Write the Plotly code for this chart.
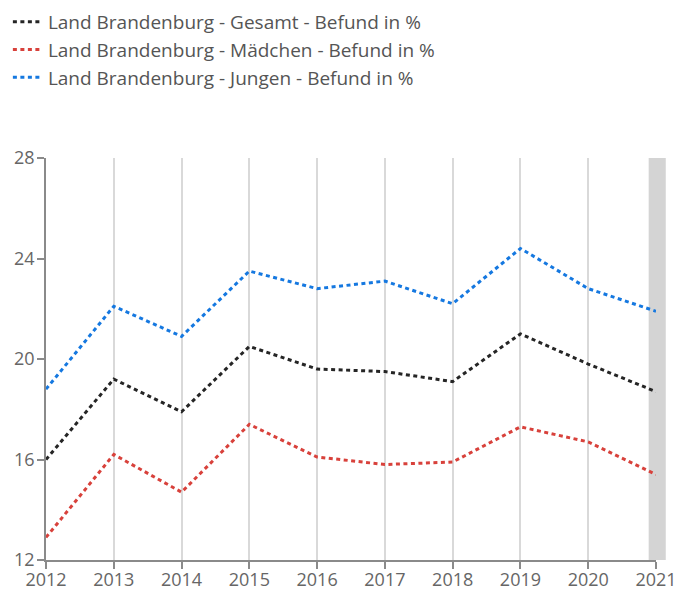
import plotly.graph_objects as go

years = [2012, 2013, 2014, 2015, 2016, 2017, 2018, 2019, 2020, 2021]
gesamt = [16.0, 19.2, 17.9, 20.5, 19.6, 19.5, 19.1, 21.0, 19.8, 18.7]
maedchen = [12.9, 16.2, 14.7, 17.4, 16.1, 15.8, 15.9, 17.3, 16.7, 15.4]
jungen = [18.8, 22.1, 20.9, 23.5, 22.8, 23.1, 22.2, 24.4, 22.8, 21.9]
y_ticks = [12, 16, 20, 24, 28]

names = [
    "Land Brandenburg - Gesamt - Befund in %",
    "Land Brandenburg - Mädchen - Befund in %",
    "Land Brandenburg - Jungen - Befund in %",
]
colors = ["#252525", "#d8413b", "#1578e0"]
series = [gesamt, maedchen, jungen]

fig = go.Figure()
for name, vals, col in zip(names, series, colors):
    fig.add_trace(go.Scatter(
        x=years, y=vals, name=name, mode="lines",
        line=dict(color=col, width=3, dash="4px,3.5px"),
    ))

# highlight band at 2021
fig.add_shape(type="rect", xref="paper", yref="paper",
              x0=0.988, x1=1.016, y0=0, y1=1,
              fillcolor="#d4d4d4", line=dict(width=0), layer="below")

font_family = "Open Sans, Noto Sans, sans-serif"
fig.update_layout(
    width=679, height=590,
    margin=dict(l=46, r=23, t=158, b=30, autoexpand=False),
    plot_bgcolor="white", paper_bgcolor="white",
    font=dict(family=font_family, size=18, color="#666666"),
    showlegend=True,
    legend=dict(
        xref="paper", yref="paper", x=-0.0625, y=1.3856,
        xanchor="left", yanchor="top",
        font=dict(size=19, color="#555555"),
        itemwidth=30, tracegroupgap=0,
        bgcolor="rgba(0,0,0,0)",
    ),
    xaxis=dict(
        range=[2012, 2021], tickmode="array", tickvals=years,
        tickangle=0,
        showgrid=True, gridcolor="#d9d9d9", gridwidth=1.5,
        showline=True, linecolor="#8a8a8a", linewidth=1.5,
        ticks="outside", ticklen=7, tickcolor="#8a8a8a", tickwidth=1.5,
        zeroline=False, tickfont=dict(size=18, color="#666666"),
        ticklabelstandoff=-4,
    ),
    yaxis=dict(
        range=[12, 28], tickmode="array", tickvals=y_ticks,
        showgrid=False,
        showline=True, linecolor="#8a8a8a", linewidth=1.5,
        ticks="outside", ticklen=7, tickcolor="#8a8a8a", tickwidth=1.5,
        zeroline=False, tickfont=dict(size=18, color="#666666"),
        ticklabelstandoff=-1,
    ),
)

fig.write_html("out.html", config={"displayModeBar": False},
               post_script="document.body.style.margin='0';")
